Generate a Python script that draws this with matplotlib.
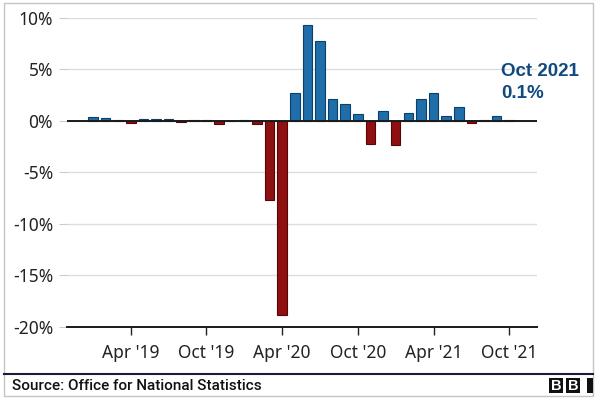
import matplotlib
matplotlib.use("Agg")
import matplotlib.pyplot as plt
from matplotlib.patches import Rectangle
from matplotlib.lines import Line2D

months = ["Jan 2019", "Feb 2019", "Mar 2019", "Apr 2019", "May 2019", "Jun 2019",
          "Jul 2019", "Aug 2019", "Sep 2019", "Oct 2019", "Nov 2019", "Dec 2019",
          "Jan 2020", "Feb 2020", "Mar 2020", "Apr 2020", "May 2020", "Jun 2020",
          "Jul 2020", "Aug 2020", "Sep 2020", "Oct 2020", "Nov 2020", "Dec 2020",
          "Jan 2021", "Feb 2021", "Mar 2021", "Apr 2021", "May 2021", "Jun 2021",
          "Jul 2021", "Aug 2021", "Sep 2021", "Oct 2021"]
growth = [0.35, 0.3, 0.05, -0.25, 0.15, 0.15,
          0.15, -0.1, 0.05, 0.05, -0.35, 0.0,
          0.1, -0.3, -7.7, -18.8, 2.7, 9.3,
          7.7, 2.1, 1.6, 0.6, -2.3, 0.9,
          -2.4, 0.7, 2.1, 2.7, 0.5, 1.35,
          -0.2, 0.1, 0.5, 0.1]
tick_months = ["Apr 2019", "Oct 2019", "Apr 2020", "Oct 2020", "Apr 2021", "Oct 2021"]
tick_labels = ["Apr '19", "Oct '19", "Apr '20", "Oct '20", "Apr '21", "Oct '21"]
y_ticks = [10, 5, 0, -5, -10, -15, -20]
y_labels = ["10%", "5%", "0%", "-5%", "-10%", "-15%", "-20%"]

W, H = 600, 405
fig = plt.figure(figsize=(W / 100, H / 100), dpi=100)
fig.patch.set_facecolor("white")

ax = fig.add_axes([67 / W, 1 - 327 / H, (537 - 67) / W, (327 - 17.5) / H])
pos = list(range(len(months)))
colors = ["#1f6ea9" if v >= 0 else "#8e1010" for v in growth]
edges = ["#0c3f6a" if v >= 0 else "#5a0505" for v in growth]
ax.bar(pos, growth, width=0.76, color=colors, edgecolor=edges, linewidth=0.8, zorder=3)

ax.set_xlim(-2.05, 35.2)
ax.set_ylim(-20, 10)
ax.axhline(0, color="#1a1a1a", lw=1.4, zorder=4)

ax.set_yticks(y_ticks)
ax.set_yticklabels(y_labels, fontfamily="Noto Sans", fontsize=12.5, color="#222222")
ax.set_xticks([months.index(m) for m in tick_months])
ax.set_xticklabels(tick_labels, fontfamily="Noto Sans", fontsize=12.5, color="#222222")

ax.grid(axis="y", color="#dddddd", lw=1, zorder=0)
ax.tick_params(axis="y", length=6, color="#cccccc", pad=4)
ax.tick_params(axis="x", length=6, color="#222222", width=1, pad=6)
for s in ["left", "right", "top"]:
    ax.spines[s].set_visible(False)
ax.spines["bottom"].set_color("#1a1a1a")
ax.spines["bottom"].set_linewidth(1.4)
ax.spines["bottom"].set_zorder(5)

ax.text(502 / (537 - 67) * 1 - 67 / (537 - 67), 0, "", transform=ax.transAxes)
fig.text(501 / W, 1 - 72 / H, "Oct 2021", fontfamily="Liberation Sans", fontweight="bold",
         fontsize=13.5, color="#114a80", va="center", ha="left")
fig.text(501 / W, 1 - 93 / H, "0.1%", fontfamily="Liberation Sans", fontweight="bold",
         fontsize=13.5, color="#114a80", va="center", ha="left")

# frame
fig.add_artist(Rectangle((4 / W, 1 - 396 / H), (593 - 4) / W, (396 - 3) / H,
                         transform=fig.transFigure, fill=False, edgecolor="#c4c4c4", lw=1))
fig.add_artist(Line2D([4 / W, 593 / W], [1 - 374 / H, 1 - 374 / H],
                      transform=fig.transFigure, color="#1c1c3a", lw=1.5))
fig.text(11.5 / W, 1 - 386 / H, "Source: Office for National Statistics",
         fontfamily="Roboto", fontweight="medium", fontsize=11, color="#111111",
         va="center", ha="left")

# BBC blocks
for x0, x1, letter in [(549, 563, "B"), (566, 580, "B"), (587, 593, "")]:
    fig.add_artist(Rectangle((x0 / W, 1 - 393.3 / H), (x1 - x0) / W, 15.6 / H,
                             transform=fig.transFigure, facecolor="#111111", edgecolor="none"))
    if letter:
        fig.text((x0 + x1) / 2 / W, 1 - 385.5 / H, letter, fontfamily="Liberation Sans",
                 fontweight="bold", fontsize=10.5, color="white", ha="center", va="center")

fig.savefig("out.png", dpi=100)
